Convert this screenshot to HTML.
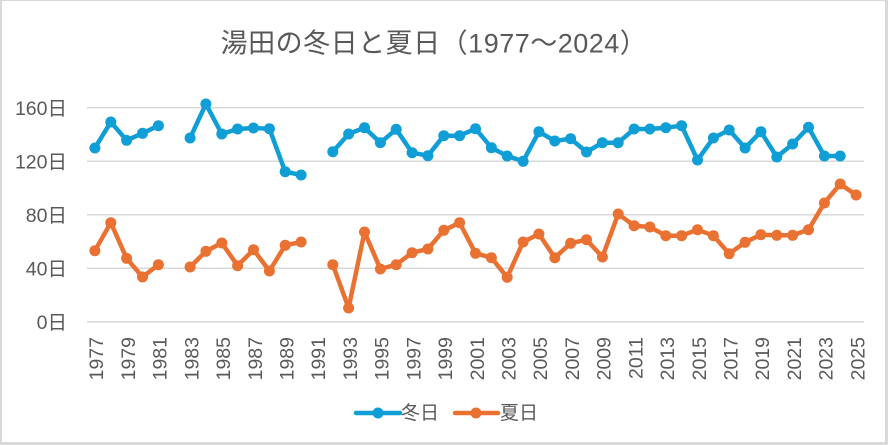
<!DOCTYPE html>
<html><head><meta charset="utf-8"><style>
html,body{margin:0;padding:0;background:#fff;}
svg{display:block;}
text{font-family:"Liberation Sans","Noto Sans CJK JP",sans-serif;fill:#595959;}
</style></head><body>
<svg width="888" height="445" viewBox="0 0 888 445" xmlns="http://www.w3.org/2000/svg">
<rect x="0" y="0" width="888" height="445" fill="#d9d9d9"/>
<rect x="2" y="1" width="883" height="441" fill="#fff"/>
<text x="434" y="52.5" font-size="27" text-anchor="middle" letter-spacing="0.5">湯田の冬日と夏日（1977～2024）</text>
<g stroke="#d9d9d9" stroke-width="1.5">
<line x1="87" x2="864" y1="107.7" y2="107.7"/>
<line x1="87" x2="864" y1="161.2" y2="161.2"/>
<line x1="87" x2="864" y1="214.7" y2="214.7"/>
<line x1="87" x2="864" y1="268.2" y2="268.2"/>
<line x1="87" x2="864" y1="321.7" y2="321.7"/>
</g>
<g font-size="19.5" text-anchor="end">
<text x="67" y="115">160日</text>
<text x="67" y="168.5">120日</text>
<text x="67" y="222">80日</text>
<text x="67" y="275.5">40日</text>
<text x="67" y="329">0日</text>
</g>
<g font-size="19.5" text-anchor="end">
<text transform="translate(103.2,337) rotate(-90)">1977</text>
<text transform="translate(134.9,337) rotate(-90)">1979</text>
<text transform="translate(166.7,337) rotate(-90)">1981</text>
<text transform="translate(198.4,337) rotate(-90)">1983</text>
<text transform="translate(230.1,337) rotate(-90)">1985</text>
<text transform="translate(261.8,337) rotate(-90)">1987</text>
<text transform="translate(293.5,337) rotate(-90)">1989</text>
<text transform="translate(325.2,337) rotate(-90)">1991</text>
<text transform="translate(356.9,337) rotate(-90)">1993</text>
<text transform="translate(388.7,337) rotate(-90)">1995</text>
<text transform="translate(420.4,337) rotate(-90)">1997</text>
<text transform="translate(452.1,337) rotate(-90)">1999</text>
<text transform="translate(483.8,337) rotate(-90)">2001</text>
<text transform="translate(515.5,337) rotate(-90)">2003</text>
<text transform="translate(547.2,337) rotate(-90)">2005</text>
<text transform="translate(578.9,337) rotate(-90)">2007</text>
<text transform="translate(610.7,337) rotate(-90)">2009</text>
<text transform="translate(642.4,337) rotate(-90)">2011</text>
<text transform="translate(674.1,337) rotate(-90)">2013</text>
<text transform="translate(705.8,337) rotate(-90)">2015</text>
<text transform="translate(737.5,337) rotate(-90)">2017</text>
<text transform="translate(769.2,337) rotate(-90)">2019</text>
<text transform="translate(800.9,337) rotate(-90)">2021</text>
<text transform="translate(832.7,337) rotate(-90)">2023</text>
<text transform="translate(864.4,337) rotate(-90)">2025</text>
</g>
<!-- Blue series -->
<g stroke="#0F9ED5" stroke-width="4.5" fill="none" stroke-linejoin="round" stroke-linecap="round">
<polyline points="94.9,148 110.8,122 126.6,140.3 142.5,133.3 158.4,125.7"/>
<polyline points="190.1,138 205.9,104 221.8,134 237.6,129 253.5,128 269.4,128.7 285.2,171.7 301.1,175"/>
<polyline points="332.8,151.7 348.6,134 364.5,127.7 380.4,142.7 396.2,129.3 412.1,152.7 427.9,155.7 443.8,135.7 459.6,135.7 475.5,128.7 491.4,147.7 507.2,156 523.1,161.3 538.9,131.7 554.8,141 570.6,138.7 586.5,152 602.4,142.7 618.2,142.7 634.1,129 649.9,129 665.8,127.7 681.6,125.7 697.5,160 713.4,138 729.2,130 745.1,148 760.9,131.7 776.8,157 792.6,144 808.5,127.3 824.4,156 840.2,156"/>
</g>
<g fill="#0F9ED5">
<circle cx="94.9" cy="148" r="5.5"/><circle cx="110.8" cy="122" r="5.5"/><circle cx="126.6" cy="140.3" r="5.5"/><circle cx="142.5" cy="133.3" r="5.5"/><circle cx="158.4" cy="125.7" r="5.5"/>
<circle cx="190.1" cy="138" r="5.5"/><circle cx="205.9" cy="104" r="5.5"/><circle cx="221.8" cy="134" r="5.5"/><circle cx="237.6" cy="129" r="5.5"/><circle cx="253.5" cy="128" r="5.5"/><circle cx="269.4" cy="128.7" r="5.5"/><circle cx="285.2" cy="171.7" r="5.5"/><circle cx="301.1" cy="175" r="5.5"/>
<circle cx="332.8" cy="151.7" r="5.5"/><circle cx="348.6" cy="134" r="5.5"/><circle cx="364.5" cy="127.7" r="5.5"/><circle cx="380.4" cy="142.7" r="5.5"/><circle cx="396.2" cy="129.3" r="5.5"/><circle cx="412.1" cy="152.7" r="5.5"/><circle cx="427.9" cy="155.7" r="5.5"/><circle cx="443.8" cy="135.7" r="5.5"/><circle cx="459.6" cy="135.7" r="5.5"/><circle cx="475.5" cy="128.7" r="5.5"/><circle cx="491.4" cy="147.7" r="5.5"/><circle cx="507.2" cy="156" r="5.5"/><circle cx="523.1" cy="161.3" r="5.5"/><circle cx="538.9" cy="131.7" r="5.5"/><circle cx="554.8" cy="141" r="5.5"/><circle cx="570.6" cy="138.7" r="5.5"/><circle cx="586.5" cy="152" r="5.5"/><circle cx="602.4" cy="142.7" r="5.5"/><circle cx="618.2" cy="142.7" r="5.5"/><circle cx="634.1" cy="129" r="5.5"/><circle cx="649.9" cy="129" r="5.5"/><circle cx="665.8" cy="127.7" r="5.5"/><circle cx="681.6" cy="125.7" r="5.5"/><circle cx="697.5" cy="160" r="5.5"/><circle cx="713.4" cy="138" r="5.5"/><circle cx="729.2" cy="130" r="5.5"/><circle cx="745.1" cy="148" r="5.5"/><circle cx="760.9" cy="131.7" r="5.5"/><circle cx="776.8" cy="157" r="5.5"/><circle cx="792.6" cy="144" r="5.5"/><circle cx="808.5" cy="127.3" r="5.5"/><circle cx="824.4" cy="156" r="5.5"/><circle cx="840.2" cy="156" r="5.5"/>
</g>
<!-- Orange series -->
<g stroke="#E97132" stroke-width="4.5" fill="none" stroke-linejoin="round" stroke-linecap="round">
<polyline points="94.9,250.7 110.8,222.7 126.6,258.3 142.5,277 158.4,264.7"/>
<polyline points="190.1,267 205.9,251.3 221.8,243 237.6,265.7 253.5,249.7 269.4,271 285.2,245.3 301.1,242"/>
<polyline points="332.8,264.7 348.6,308 364.5,232 380.4,269 396.2,264.7 412.1,252.7 427.9,249 443.8,230.3 459.6,222.7 475.5,253.3 491.4,257.7 507.2,277.3 523.1,242 538.9,234 554.8,257.7 570.6,243.3 586.5,239.7 602.4,257 618.2,214 634.1,225.7 649.9,227 665.8,235.7 681.6,235.7 697.5,229.7 713.4,235.7 729.2,253.7 745.1,242.3 760.9,234.7 776.8,235.3 792.6,235.3 808.5,229.7 824.4,203 840.2,184 856.1,195"/>
</g>
<g fill="#E97132">
<circle cx="94.9" cy="250.7" r="5.5"/><circle cx="110.8" cy="222.7" r="5.5"/><circle cx="126.6" cy="258.3" r="5.5"/><circle cx="142.5" cy="277" r="5.5"/><circle cx="158.4" cy="264.7" r="5.5"/>
<circle cx="190.1" cy="267" r="5.5"/><circle cx="205.9" cy="251.3" r="5.5"/><circle cx="221.8" cy="243" r="5.5"/><circle cx="237.6" cy="265.7" r="5.5"/><circle cx="253.5" cy="249.7" r="5.5"/><circle cx="269.4" cy="271" r="5.5"/><circle cx="285.2" cy="245.3" r="5.5"/><circle cx="301.1" cy="242" r="5.5"/>
<circle cx="332.8" cy="264.7" r="5.5"/><circle cx="348.6" cy="308" r="5.5"/><circle cx="364.5" cy="232" r="5.5"/><circle cx="380.4" cy="269" r="5.5"/><circle cx="396.2" cy="264.7" r="5.5"/><circle cx="412.1" cy="252.7" r="5.5"/><circle cx="427.9" cy="249" r="5.5"/><circle cx="443.8" cy="230.3" r="5.5"/><circle cx="459.6" cy="222.7" r="5.5"/><circle cx="475.5" cy="253.3" r="5.5"/><circle cx="491.4" cy="257.7" r="5.5"/><circle cx="507.2" cy="277.3" r="5.5"/><circle cx="523.1" cy="242" r="5.5"/><circle cx="538.9" cy="234" r="5.5"/><circle cx="554.8" cy="257.7" r="5.5"/><circle cx="570.6" cy="243.3" r="5.5"/><circle cx="586.5" cy="239.7" r="5.5"/><circle cx="602.4" cy="257" r="5.5"/><circle cx="618.2" cy="214" r="5.5"/><circle cx="634.1" cy="225.7" r="5.5"/><circle cx="649.9" cy="227" r="5.5"/><circle cx="665.8" cy="235.7" r="5.5"/><circle cx="681.6" cy="235.7" r="5.5"/><circle cx="697.5" cy="229.7" r="5.5"/><circle cx="713.4" cy="235.7" r="5.5"/><circle cx="729.2" cy="253.7" r="5.5"/><circle cx="745.1" cy="242.3" r="5.5"/><circle cx="760.9" cy="234.7" r="5.5"/><circle cx="776.8" cy="235.3" r="5.5"/><circle cx="792.6" cy="235.3" r="5.5"/><circle cx="808.5" cy="229.7" r="5.5"/><circle cx="824.4" cy="203" r="5.5"/><circle cx="840.2" cy="184" r="5.5"/><circle cx="856.1" cy="195" r="5.5"/>
</g>
<!-- Legend -->
<line x1="356" x2="400" y1="413" y2="413" stroke="#0F9ED5" stroke-width="4.5" stroke-linecap="round"/>
<circle cx="378" cy="413" r="5.5" fill="#0F9ED5"/>
<text x="401" y="419" font-size="19">冬日</text>
<line x1="455" x2="498" y1="413" y2="413" stroke="#E97132" stroke-width="4.5" stroke-linecap="round"/>
<circle cx="476" cy="413" r="5.5" fill="#E97132"/>
<text x="500" y="419" font-size="19">夏日</text>
</svg>
</body></html>
